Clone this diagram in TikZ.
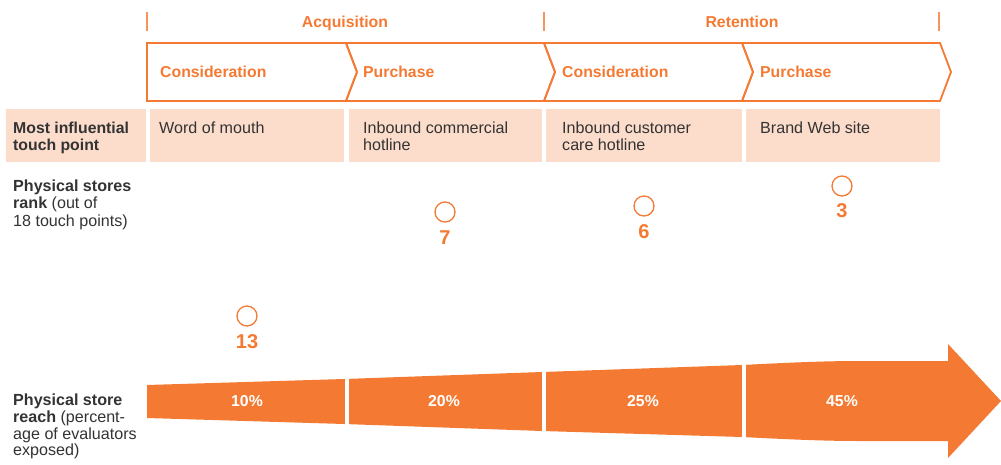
\documentclass[tikz,border=0pt]{standalone}
\usepackage{fontspec}
\setmainfont{Liberation Sans}
\definecolor{org}{HTML}{F47A33}
\definecolor{pinkcell}{HTML}{FCDCCB}
\definecolor{txt}{HTML}{333333}
\begin{document}
\begin{tikzpicture}[x=1pt,y=-1pt,
  hdr/.style={font=\fontsize{15.8}{17.5}\selectfont\bfseries, text=org, inner sep=0},
  body/.style={font=\fontsize{16.1}{17.3}\selectfont, text=txt, inner sep=0, align=left, anchor=base west},
  rankc/.style={circle, draw=org, line width=1.3pt, minimum size=20pt, inner sep=0},
  ranknum/.style={font=\fontsize{20}{22}\selectfont\bfseries, text=org, inner sep=0},
  pct/.style={font=\fontsize{15.8}{17}\selectfont\bfseries, text=white, inner sep=0},
  chev/.style={draw=org, line width=1.8pt, line join=miter},
  cell/.style={fill=pinkcell},
  tickline/.style={draw=org!80, line width=1.3pt},
  gap/.style={draw=white, line width=4pt}]
\useasboundingbox (0,0) rectangle (1001,464);

% phase ticks and titles
\draw[tickline] (147,12) -- (147,31);
\draw[tickline] (544,12) -- (544,31);
\draw[tickline] (939,12) -- (939,31);
\node[hdr, anchor=base] (acq) at (345,27) {Acquisition};
\node[hdr, anchor=base] (ret) at (742,27) {Retention};

% chevrons
\draw[chev] (147,43) -- (346,43) -- (357,72) -- (346,101) -- (147,101) -- cycle;
\draw[chev] (346,43) -- (544,43) -- (555,72) -- (544,101) -- (346,101) -- (357,72) -- cycle;
\draw[chev] (544,43) -- (742,43) -- (753,72) -- (742,101) -- (544,101) -- (555,72) -- cycle;
\draw[chev] (742,43) -- (940,43) -- (951,72) -- (940,101) -- (742,101) -- (753,72) -- cycle;
\node[hdr, anchor=west] (c1) at (160,72) {Consideration};
\node[hdr, anchor=west] (p1) at (363,72) {Purchase};
\node[hdr, anchor=west] (c2) at (562,72) {Consideration};
\node[hdr, anchor=west] (p2) at (760,72) {Purchase};

% touch point row
\fill[cell] (6,109) rectangle (146,162);
\fill[cell] (150,109) rectangle (344,162);
\fill[cell] (349,109) rectangle (542,162);
\fill[cell] (546,109) rectangle (742,162);
\fill[cell] (746,109) rectangle (940,162);
\node[body, font=\fontsize{15.8}{17.3}\selectfont] (lab1) at (13,150.6) {\textbf{Most influential}\\\textbf{touch point}};
\node[body] (t1) at (159,133.3) {Word of mouth};
\node[body] (t2) at (363,150.6) {Inbound commercial\\hotline};
\node[body] (t3) at (562,150.6) {Inbound customer\\care hotline};
\node[body] (t4) at (760,133.3) {Brand Web site};

% rank row
\node[body, font=\fontsize{16.1}{17.6}\selectfont] (lab2) at (13,226.2) {\textbf{Physical stores}\\\textbf{rank} (out of\\18 touch points)};
\node[rankc] (r1) at (247,316) {};
\node[ranknum] (n1) at (247,342) {13};
\node[rankc] (r2) at (445,212) {};
\node[ranknum] (n2) at (445,238) {7};
\node[rankc] (r3) at (644,206) {};
\node[ranknum] (n3) at (644,232) {6};
\node[rankc] (r4) at (842,186) {};
\node[ranknum] (n4) at (842,211) {3};

% reach arrow
\fill[org] (147,385) -- (344,379) -- (542,372) -- (742,365)
  .. controls (800,362) and (830,361) .. (860,361) -- (948,361) -- (948,344)
  -- (1001,401) -- (948,458) -- (948,441) -- (860,441)
  .. controls (830,441) and (800,440) .. (742,437) -- (542,431) -- (344,424) -- (147,418) -- cycle;
\draw[gap] (346.5,370) -- (346.5,432);
\draw[gap] (544,362) -- (544,440);
\draw[gap] (744,355) -- (744,447);
\node[pct] (q1) at (247,401) {10\%};
\node[pct] (q2) at (444,401) {20\%};
\node[pct] (q3) at (643,401) {25\%};
\node[pct] (q4) at (842,401) {45\%};
\node[body, font=\fontsize{16.1}{16.7}\selectfont] (lab3) at (13,455.8) {\textbf{Physical store}\\\textbf{reach} (percent-\\age of evaluators\\exposed)};
\end{tikzpicture}
\end{document}
